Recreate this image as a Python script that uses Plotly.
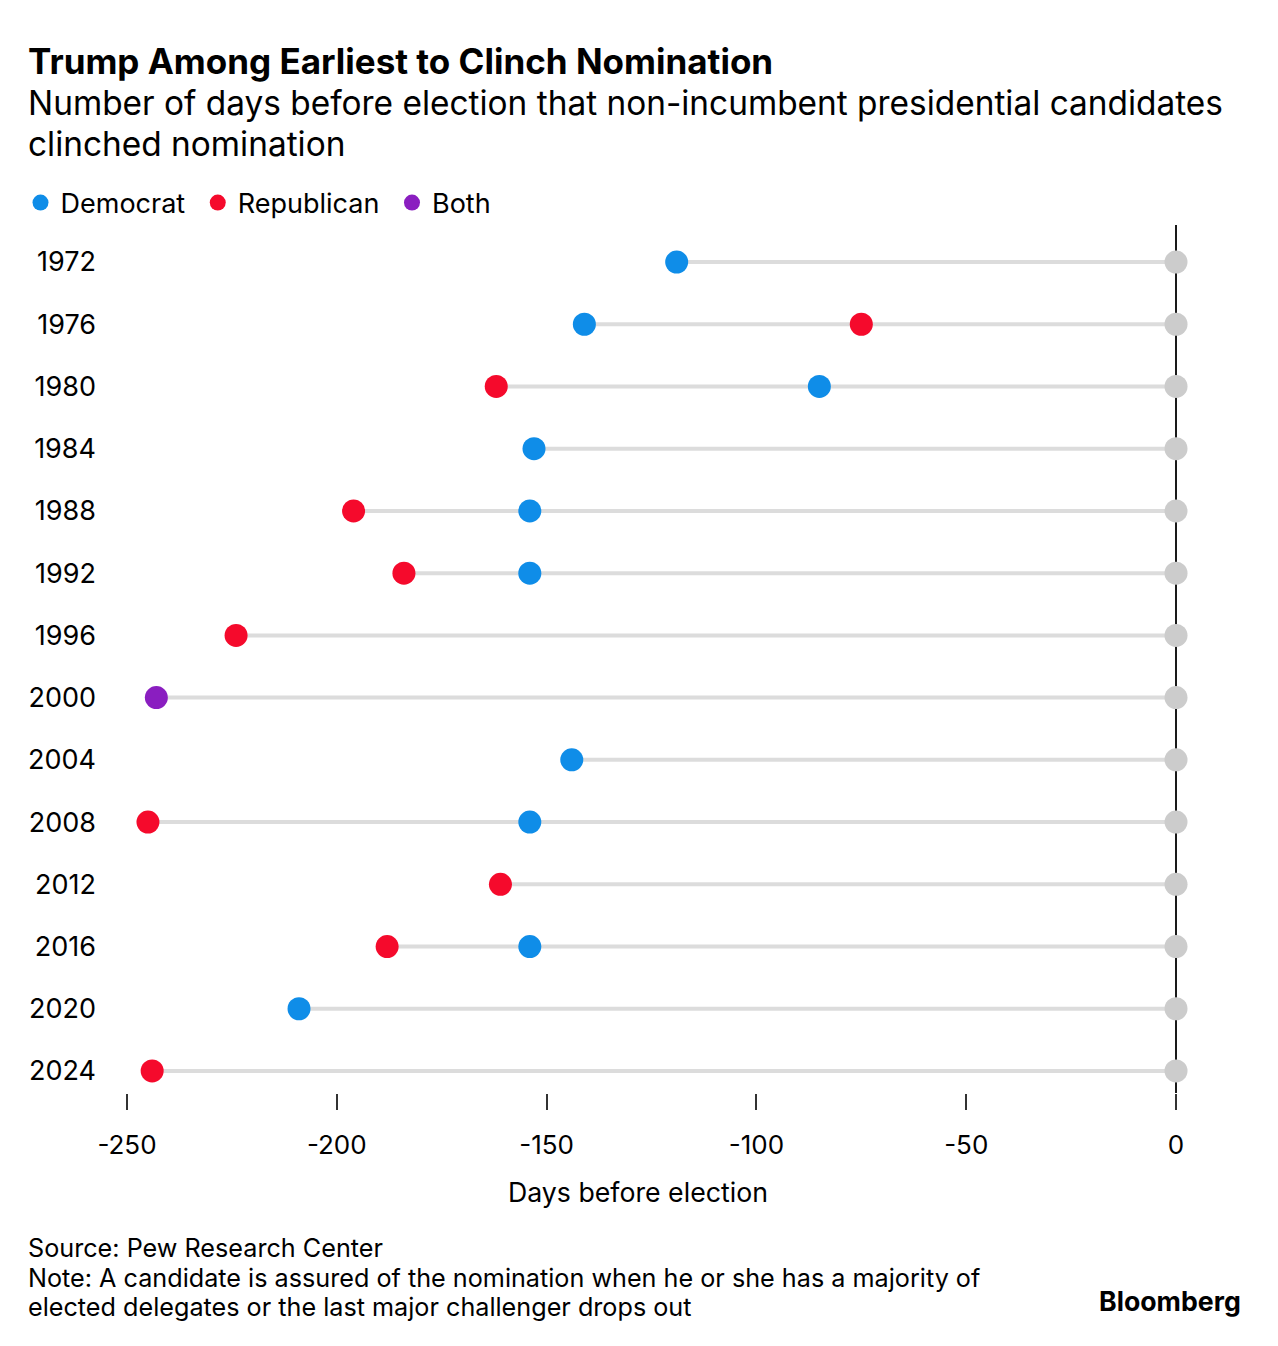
import plotly.graph_objects as go

years = ["1972", "1976", "1980", "1984", "1988", "1992", "1996", "2000",
         "2004", "2008", "2012", "2016", "2020", "2024"]
dem_days = [-119, -141, -85, -153, -154, -154, None, None,
            -144, -154, None, -154, -209, None]
rep_days = [None, -75, -162, None, -196, -184, -224, None,
            None, -245, -161, -188, None, -244]
both_days = [None, None, None, None, None, None, None, -243,
             None, None, None, None, None, None]
election_day = [0] * len(years)
x_ticks = [-250, -200, -150, -100, -50, 0]

FONT = "Inter"
BLUE = "#0f8de8"
RED = "#f50a2c"
PURPLE = "#8a1ec0"
GREY_DOT = "#cccccc"
GREY_LINE = "#dcdcdc"

OFF = 8  # page body margin
W, H = 1278 - OFF, 1346 - OFF
# plot area in screen pixels
PLOT_L, PLOT_R, PLOT_T, PLOT_B = 106, 1197, 225, 1093

def py(p):
    return (PLOT_B - p) / (PLOT_B - PLOT_T)

def px(p):
    return (p - PLOT_L) / (PLOT_R - PLOT_L)

ypos = list(range(len(years)))

# connector lines from earliest clinch to election day
lx, ly = [], []
for i in range(len(years)):
    vals = [v for v in (dem_days[i], rep_days[i], both_days[i]) if v is not None]
    lx += [min(vals), election_day[i], None]
    ly += [ypos[i], ypos[i], None]

NB = "\u00a0"
fig = go.Figure()
fig.add_trace(go.Scatter(x=lx, y=ly, mode="lines",
                         line=dict(color=GREY_LINE, width=4),
                         hoverinfo="skip", showlegend=False))
fig.add_trace(go.Scatter(x=election_day, y=ypos, mode="markers",
                         marker=dict(color=GREY_DOT, size=23),
                         hoverinfo="skip", showlegend=False))
fig.add_trace(go.Scatter(x=dem_days, y=ypos, mode="markers", name="Democrat" + NB,
                         marker=dict(color=BLUE, size=23)))
fig.add_trace(go.Scatter(x=rep_days, y=ypos, mode="markers", name="Republican" + NB,
                         marker=dict(color=RED, size=23)))
fig.add_trace(go.Scatter(x=both_days, y=ypos, mode="markers", name="Both",
                         marker=dict(color=PURPLE, size=23)))

ann = []
def add(text, x, y, size, anchor="left"):
    ann.append(dict(text=text, x=px(x), y=py(y), xanchor=anchor, yanchor="middle",
                    xref="paper", yref="paper", showarrow=False, align="left",
                    font=dict(size=size, color="#000000", family=FONT)))

add("<b>Trump Among Earliest to Clinch Nomination</b>", 25.5, 61, 35)
add("Number of days before election that non-incumbent presidential candidates", 25.5, 103, 33.4)
add("clinched nomination", 25.5, 144, 33.4)
add("Days before election", 638, 1192, 26.7, "center")
add("Source: Pew Research Center", 25.5, 1248, 25.2)
add("Note: A candidate is assured of the nomination when he or she has a majority of", 25.5, 1278, 25.2)
add("elected delegates or the last major challenger drops out", 25.5, 1307, 25.2)
add("<b>Bloomberg</b>", 1243, 1301, 26.7, "right")

fig.update_layout(
    width=W, height=H,
    margin=dict(l=PLOT_L - OFF, r=W - (PLOT_R - OFF), t=PLOT_T - OFF, b=H - (PLOT_B - OFF),
                pad=0, autoexpand=False),
    paper_bgcolor="white", plot_bgcolor="white",
    font=dict(family=FONT, color="#000000"),
    showlegend=True,
    legend=dict(orientation="h", x=px(20.5), y=py(203), xanchor="left", yanchor="middle",
                font=dict(size=27, family=FONT, color="#000000"),
                itemsizing="trace", itemwidth=30, traceorder="normal",
                bgcolor="rgba(0,0,0,0)"),
    annotations=ann,
)
fig.update_xaxes(range=[-255, 5], tickvals=x_ticks, ticktext=[str(v) for v in x_ticks],
                 showgrid=False, zeroline=True, zerolinecolor="#1a1a1a", zerolinewidth=2,
                 ticks="outside", ticklen=16, tickwidth=2, tickcolor="#333333",
                 showline=False, ticklabelstandoff=13, automargin=False,
                 tickfont=dict(size=26, family=FONT, color="#000000"))
fig.update_yaxes(range=[13.354, -0.595], tickvals=ypos, ticktext=years,
                 showgrid=False, zeroline=False, showline=False,
                 ticks="", ticklabelstandoff=9, automargin=False,
                 tickfont=dict(size=27, family=FONT, color="#000000"))

fig.write_html("out.html")
